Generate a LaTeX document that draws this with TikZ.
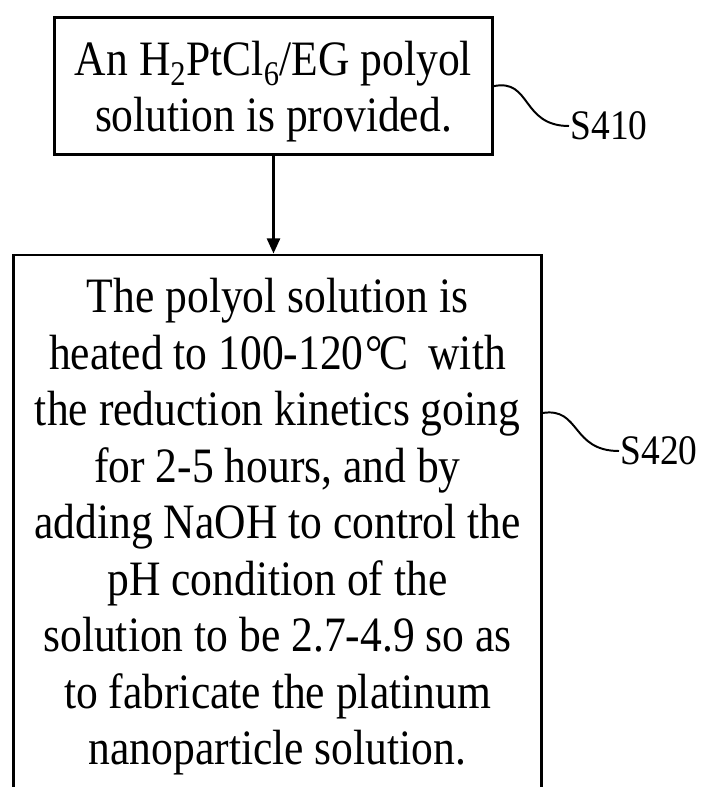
\documentclass[tikz,border=0pt]{standalone}
\usepackage{fontspec}
\setmainfont{Liberation Serif}
\usetikzlibrary{arrows.meta,positioning,calc}
\tikzset{
  stepbox/.style={draw,line width=2.1pt,anchor=north,inner ysep=0.45cm,font=\fontsize{35.2}{40.2}\selectfont},
  ar/.style={-{Triangle[length=3.8mm,width=3.3mm]},line width=1.6pt},
  lead/.style={line width=1.4pt},
  lbl/.style={anchor=west,inner sep=1pt,font=\fontsize{29.9}{34}\selectfont}
}
\newcommand{\degc}{{\kern0.05em°\kern-0.08em C\hspace{0.2em}}}
\newcommand{\narrowtxt}[1]{\scalebox{0.88}[1]{\begin{tabular}{@{}c@{}}#1\end{tabular}}}
\newcommand{\narrowlbl}[1]{\scalebox{0.89}[1]{#1}}

\begin{document}
\begin{tikzpicture}[x=0.025cm,y=-0.025cm]
\useasboundingbox (0,0) rectangle (701,787);
\clip (0,0) rectangle (701,787);
% process steps
\node[stepbox,minimum width=10.925cm] (s410) at (273.5,16)
  {\narrowtxt{An H\textsubscript{2}PtCl\textsubscript{6}/EG polyol\\solution is provided.\\[-0.29cm]}};
\node[stepbox,minimum width=13.175cm] (s420) at (277.5,253.5)
  {\narrowtxt{The polyol solution is\\
   heated to 100-120\degc{} with\\
   the reduction kinetics going\\
   for 2-5 hours, and by\\
   adding NaOH to control the\\
   pH condition of the\\
   solution to be 2.7-4.9 so as\\
   to fabricate the platinum\\
   nanoparticle solution.}};
\draw[ar] (s410.south) -- (s410.south |- s420.north);
% step labels
\node[lbl] (l410) at (569,126) {\narrowlbl{S410}};
\node[lbl] (l420) at (619,451) {\narrowlbl{S420}};
\path (s420.north east) ++(0,159.5) coordinate (t420);
\draw[lead] (s410.east) .. controls +(38,-8) and +(-48,0) .. (l410.west);
\draw[lead] (t420) .. controls +(38,-6) and +(-48,0) .. (l420.west);
\end{tikzpicture}
\end{document}
